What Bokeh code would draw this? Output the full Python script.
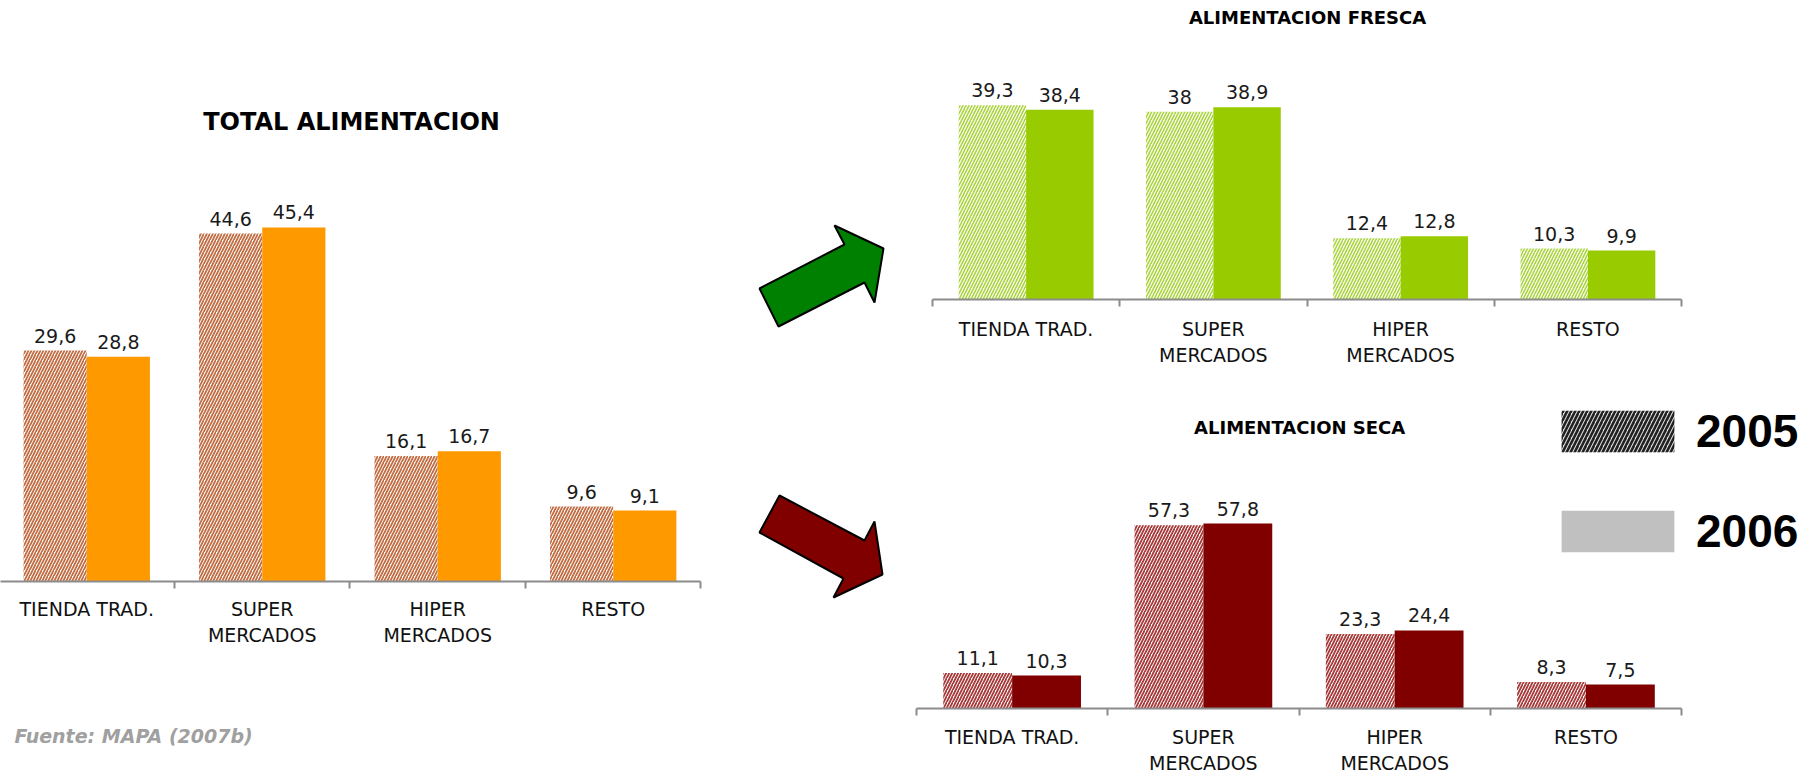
from bokeh.plotting import figure
from bokeh.models import (Range1d, LinearAxis, FixedTicker, ColumnDataSource, LabelSet,
                          Label, Legend, LegendItem)
from bokeh.layouts import row, column
from bokeh.embed import file_html
from bokeh.resources import INLINE
from bokeh.core.properties import value

# ---------------- data ----------------
categories = ["TIENDA TRAD.", "SUPER\nMERCADOS", "HIPER\nMERCADOS", "RESTO"]
years = ["2005", "2006"]

total_2005 = [29.6, 44.6, 16.1, 9.6]
total_2006 = [28.8, 45.4, 16.7, 9.1]

fresca_2005 = [39.3, 38.0, 12.4, 10.3]
fresca_2006 = [38.4, 38.9, 12.8, 9.9]

seca_2005 = [11.1, 57.3, 23.3, 8.3]
seca_2006 = [10.3, 57.8, 24.4, 7.5]

source_note = "Fuente: MAPA (2007b)"

# decorative arrow outlines (pixel space of the arrow strip)
green_arrow_x = [759, 844, 834, 883, 874, 864, 778]
green_arrow_y = [288, 244, 225, 248, 302, 282, 326]
red_arrow_x = [779, 864, 874, 882, 833, 843, 759]
red_arrow_y = [495, 540, 521, 574, 597, 578, 532]

FONT = "DejaVu Sans"
AXIS_GRAY = "#8C8C8C"


def fmt(v):
    if float(v).is_integer():
        return str(int(v))
    return ("%.1f" % v).replace(".", ",")


def bar_chart(title, v05, v06, col06, hatch_col, width, height, border_bottom,
              x_start, x_end, px_per_unit, title_x, title_y_px, title_size,
              label_standoff=11, hatch_weight=1.8):
    frame_h = height - border_bottom
    y_end = frame_h / px_per_unit
    p = figure(width=width, height=height, x_range=Range1d(x_start, x_end),
               y_range=Range1d(0, y_end), output_backend="svg",
               toolbar_location=None, x_axis_type=None, y_axis_type=None,
               min_border_left=0, min_border_right=0,
               min_border_top=0, min_border_bottom=border_bottom)
    p.outline_line_color = None
    p.xgrid.visible = False
    p.ygrid.visible = False
    p.background_fill_color = "white"
    p.border_fill_color = "white"

    idx = list(range(len(categories)))
    off = 0.18
    bw = 0.36
    x05 = [i - off for i in idx]
    x06 = [i + off for i in idx]
    src05 = ColumnDataSource(dict(x=x05, top=v05, lab=[fmt(v) for v in v05]))
    src06 = ColumnDataSource(dict(x=x06, top=v06, lab=[fmt(v) for v in v06]))

    p.vbar(x="x", top="top", width=bw, source=src05, fill_color="white",
           line_color=None, hatch_pattern="/", hatch_color=hatch_col,
           hatch_weight=hatch_weight, hatch_scale=6)
    p.vbar(x="x", top="top", width=bw, source=src06, fill_color=col06,
           line_color=None)

    for s in (src05, src06):
        p.add_layout(LabelSet(x="x", y="top", text="lab", source=s,
                              text_align="center", text_baseline="bottom",
                              y_offset=8, text_font=value(FONT),
                              text_font_size="19px", text_color="#1a1a1a"))

    ax = LinearAxis(ticker=FixedTicker(ticks=idx, minor_ticks=[-0.5, 0.5, 1.5, 2.5, 3.5]))
    ax.bounds = (-0.5, 3.5)
    ax.axis_line_color = AXIS_GRAY
    ax.axis_line_width = 2
    ax.minor_tick_line_color = AXIS_GRAY
    ax.minor_tick_line_width = 2
    ax.minor_tick_out = 7
    ax.minor_tick_in = 0
    ax.major_tick_line_color = None
    ax.major_tick_out = 0
    ax.major_tick_in = 0
    ax.major_label_overrides = {i: c for i, c in zip(idx, categories)}
    ax.major_label_text_font = FONT
    ax.major_label_text_font_size = "19px"
    ax.major_label_text_color = "#111111"
    ax.major_label_standoff = label_standoff
    p.add_layout(ax, "below")

    p.add_layout(Label(x=title_x, y=title_y_px / px_per_unit, text=title,
                       text_align="center", text_baseline="middle",
                       text_font=FONT, text_font_style="bold",
                       text_font_size=title_size, text_color="#000000"))
    return p


# TOTAL (left): categories 175.5 px wide, first one starting at page x -1.5
left = bar_chart("TOTAL ALIMENTACION", total_2005, total_2006, "#FF9900", "#C26E44",
                 728, 660, 79, -0.4915, 3.657, 7.8, 1.509, 460, "24px",
                 label_standoff=9)

# source note strip under the left chart
note = figure(width=728, height=117, x_range=Range1d(0, 728), y_range=Range1d(117, 0),
              output_backend="svg", toolbar_location=None, x_axis_type=None,
              y_axis_type=None, min_border=0)
note.outline_line_color = None
note.xgrid.visible = False
note.ygrid.visible = False
note.add_layout(Label(x=14, y=75, text=source_note, text_align="left",
                      text_baseline="middle", text_font=FONT,
                      text_font_style="bold italic", text_font_size="19px",
                      text_color="#A0A0A0"))

# FRESCA (top right)
fresca = bar_chart("ALIMENTACION FRESCA", fresca_2005, fresca_2006, "#99CC00", "#A9D43C",
                   909, 390, 91, -0.644, 4.210, 4.94, 1.503, 282, "18px",
                   hatch_weight=1.6)

# SECA (bottom right)
seca = bar_chart("ALIMENTACION SECA", seca_2005, seca_2006, "#800000", "#A83A3A",
                 909, 387, 69, -0.5575, 4.195, 3.2, 1.503, 281, "18px",
                 label_standoff=10)

r05 = seca.vbar(x=[0], top=[0], width=0, fill_color="#E4E4E4", line_color=None,
                hatch_pattern="/", hatch_color="#222222", hatch_weight=2.6, hatch_scale=8)
r06 = seca.vbar(x=[0], top=[0], width=0, fill_color="#C0C0C0", line_color=None)
legend = Legend(items=[LegendItem(label=years[0], renderers=[r05]),
                       LegendItem(label=years[1], renderers=[r06])],
                location=(642, 150), orientation="vertical",
                glyph_width=141, glyph_height=52, label_height=52,
                label_standoff=8, spacing=46, padding=0, margin=0,
                border_line_color=None, background_fill_alpha=0,
                label_text_font="Liberation Sans", label_text_font_style="bold",
                label_text_font_size="46px", label_text_color="#000000")
seca.add_layout(legend, "center")

# arrows strip
arrows = figure(width=177, height=777, x_range=Range1d(728, 905), y_range=Range1d(777, 0),
                output_backend="svg", toolbar_location=None, x_axis_type=None,
                y_axis_type=None, min_border=0)
arrows.outline_line_color = None
arrows.xgrid.visible = False
arrows.ygrid.visible = False
arrows.patch(green_arrow_x, green_arrow_y, fill_color="#008000", line_color="#000000", line_width=2)
arrows.patch(red_arrow_x, red_arrow_y, fill_color="#800000", line_color="#000000", line_width=2)

layout = row(column(left, note), arrows, column(fresca, seca))

open("out.html", "w").write(file_html(layout, INLINE))
